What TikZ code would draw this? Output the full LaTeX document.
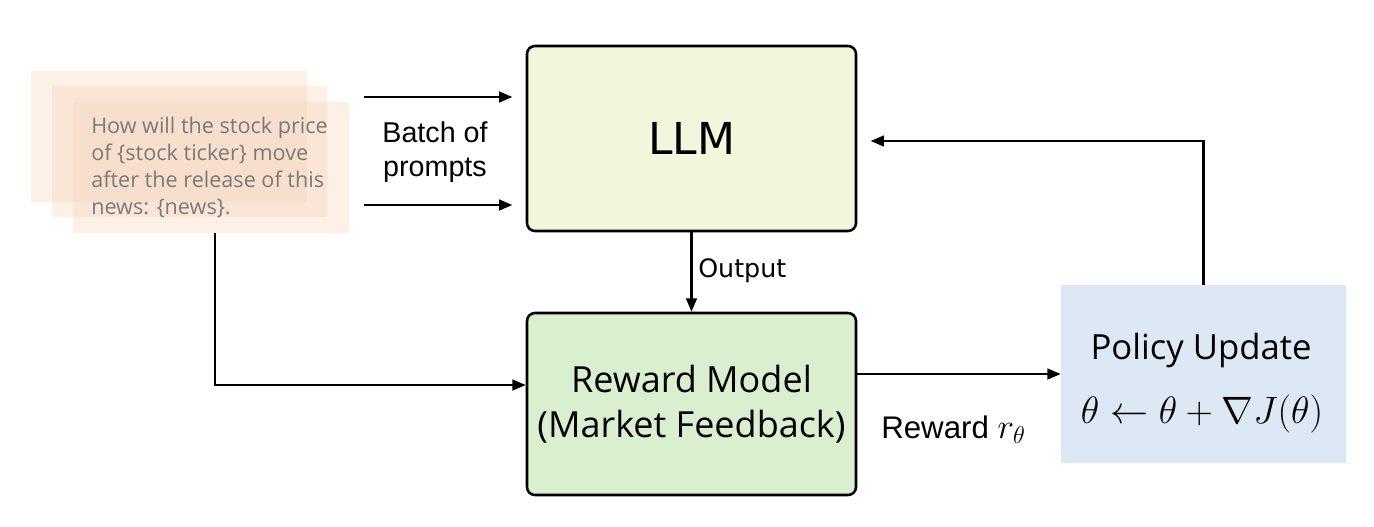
\documentclass[tikz,border=0pt]{standalone}
\usepackage{graphicx}
\usepackage{fontspec}
\setmainfont{Liberation Sans}
\newfontfamily\dvfont{DejaVu Sans}
\newfontfamily\aptfont{Open Sans}
\usetikzlibrary{arrows.meta,positioning}
\definecolor{llmfill}{HTML}{F2F6DC}
\definecolor{rewfill}{HTML}{DAEED0}
\definecolor{polfill}{HTML}{DEE8F5}
\definecolor{cardfill}{HTML}{F5CFB5}
\definecolor{prompttext}{HTML}{7A7A7A}
\tikzset{
  arr/.style={-{Triangle[length=10pt,width=8pt]}, line width=1.8pt},
  mainbox/.style={draw, line width=1.9pt, rounded corners=6pt},
  card/.style={fill=cardfill, fill opacity=0.32, inner sep=0pt},
}
\begin{document}
\begin{tikzpicture}[x=0.75pt,y=-0.75pt]
\useasboundingbox (0,0) rectangle (1374,526);
% prompt cards
\node[card, minimum width=207pt, minimum height=98.25pt] (cardA) at (169,136.5) {};
\node[card, minimum width=206.25pt, minimum height=98.25pt] (cardB) at (189.5,151.5) {};
\node[card, minimum width=207pt, minimum height=98.25pt] (cardC) at (211,167.5) {};
\node[anchor=north west, inner sep=0pt, align=left, text=prompttext,
      font=\aptfont\fontsize{16.2}{20.25}\selectfont] (ptext) at (91,117)
  {How will the stock price\\of \{stock ticker\} move\\after the release of this\\news: \{news\}.};
% main boxes
\node[mainbox, fill=llmfill, minimum width=246.75pt, minimum height=138.75pt,
      font=\dvfont\fontsize{33}{38}\selectfont] (llm) at (691.5,138.5) {LLM};
\node[mainbox, fill=rewfill, minimum width=246.75pt, minimum height=136.5pt, align=center,
      font=\aptfont\fontsize{27}{34}\selectfont] (rew) at (691.5,404) {Reward Model\\(Market Feedback)};
\node[fill=polfill, minimum width=213.75pt, minimum height=133.5pt, align=center, inner sep=0pt] (pol) at (1203.5,374) {};
\node[font=\aptfont\fontsize{26}{30}\selectfont] (poltitle) at (1201,350) {Policy Update};
\node[font=\fontsize{24.88}{30}\selectfont] (polformula) at (1202,414) {\scalebox{1.15}{$\theta \leftarrow \theta + \nabla J(\theta)$}};
% labels
\node[align=center, font=\fontsize{21.5}{25.5}\selectfont] (batch) at (435,152) {Batch of\\prompts};
\node[anchor=west, inner sep=0pt, font=\dvfont\fontsize{19}{22}\selectfont] (outlbl) at (698,271) {Output};
\node[anchor=base west, inner sep=0pt, font=\fontsize{20.74}{25}\selectfont] (rewlbl) at (881,438)
  {\scalebox{1.13}{Reward \scalebox{1.12}{$r_\theta$}}};
% connectors
\coordinate (b1) at (364,97);
\coordinate (b2) at (364,205);
\draw[arr, shorten >=10pt] (b1) -- (llm.west |- b1);
\draw[arr, shorten >=10pt] (b2) -- (llm.west |- b2);
\draw[arr] (llm.south) -- (rew.north);
\coordinate (pc) at (215,233);
\draw[arr] (pc) |- (rew.west |- 0,385);
\draw[arr] (rew.east |- pol.west) -- (pol.west);
\coordinate (fb) at (1203.5,141);
\draw[arr, shorten >=10pt] (pol.north) -- (fb) -- (llm.east |- fb);
\end{tikzpicture}
\end{document}
